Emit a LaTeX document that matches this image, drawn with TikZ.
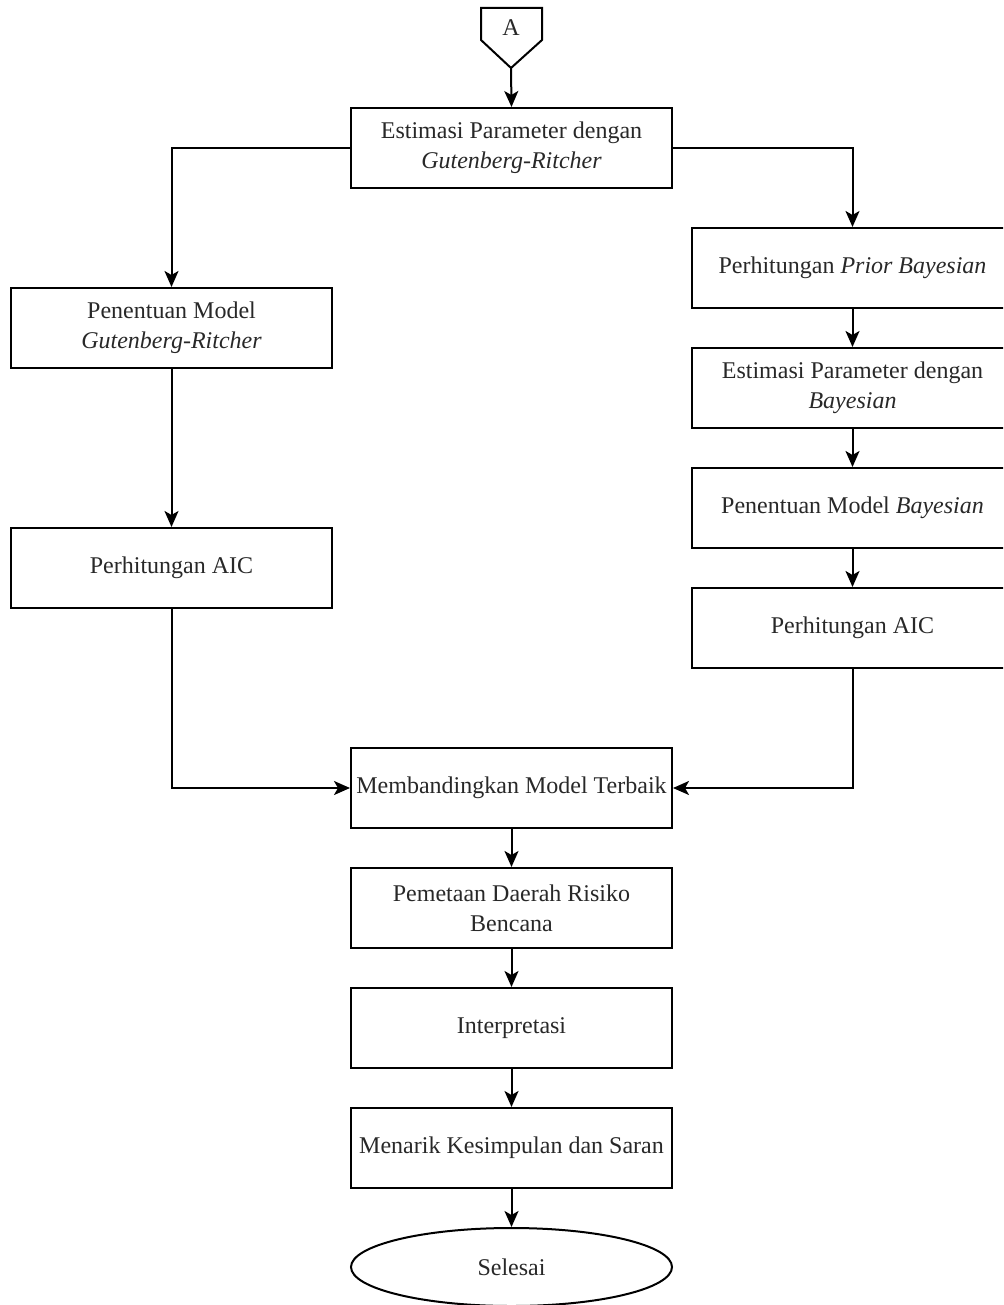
\documentclass[tikz,border=0pt]{standalone}
\usepackage{fontspec}
\setmainfont{Liberation Serif}
\usetikzlibrary{shapes.geometric,arrows.meta}
\definecolor{txt}{RGB}{40,40,40}
\begin{document}
\begin{tikzpicture}[x=1pt,y=-1pt,
  line width=2pt,
  box/.style={draw, rectangle, minimum width=321pt, minimum height=80pt, inner sep=0pt,
    align=center, text=txt, font=\fontsize{24}{30}\selectfont},
  endbox/.style={draw, ellipse, minimum width=321pt, minimum height=78pt, inner sep=0pt,
    text=txt, font=\fontsize{24}{30}\selectfont},
  arr/.style={-{Stealth[length=16pt,width=14pt,inset=4pt]}}
]
\useasboundingbox (0,0) rectangle (1003,1305);
\clip (0,0) rectangle (1003,1305);

% off-page connector
\draw (481,8) -- (542,8) -- (542,40) -- (511,68) -- (481,40) -- cycle;
\node[text=txt, font=\fontsize{24}{30}\selectfont] (A) at (511,28) {A};
\coordinate (Atip) at (511,68);

\node[box] (est) at (511.5,148) {Estimasi Parameter dengan\\\textit{Gutenberg-Ritcher}};

\node[box] (L1) at (171.5,328) {Penentuan Model\\\textit{Gutenberg-Ritcher}};
\node[box] (L2) at (171.5,568) {Perhitungan AIC};

\node[box] (R1) at (852.5,268) {Perhitungan \textit{Prior Bayesian}};
\node[box] (R2) at (852.5,388) {Estimasi Parameter dengan\\\textit{Bayesian}};
\node[box] (R3) at (852.5,508) {Penentuan Model \textit{Bayesian}};
\node[box] (R4) at (852.5,628) {Perhitungan AIC};

\node[box] (M) at (511.5,788) {Membandingkan Model Terbaik};
\node[box] (P) at (511.5,908) {Pemetaan Daerah Risiko\\Bencana};
\node[box] (I) at (511.5,1028) {Interpretasi};
\node[box] (K) at (511.5,1148) {Menarik Kesimpulan dan Saran};
\node[endbox] (S) at (511.5,1267) {Selesai};

\draw[arr] (Atip) -- (est.north);
\draw[arr] (est.west) -| (L1.north);
\draw[arr] (est.east) -| (R1.north);
\draw[arr] (L1) -- (L2);
\draw[arr] (R1) -- (R2);
\draw[arr] (R2) -- (R3);
\draw[arr] (R3) -- (R4);
\draw[arr] (L2.south) |- (M.west);
\draw[arr] (R4.south) |- (M.east);
\draw[arr] (M) -- (P);
\draw[arr] (P) -- (I);
\draw[arr] (I) -- (K);
\draw[arr] (K) -- (S);
\end{tikzpicture}
\end{document}
